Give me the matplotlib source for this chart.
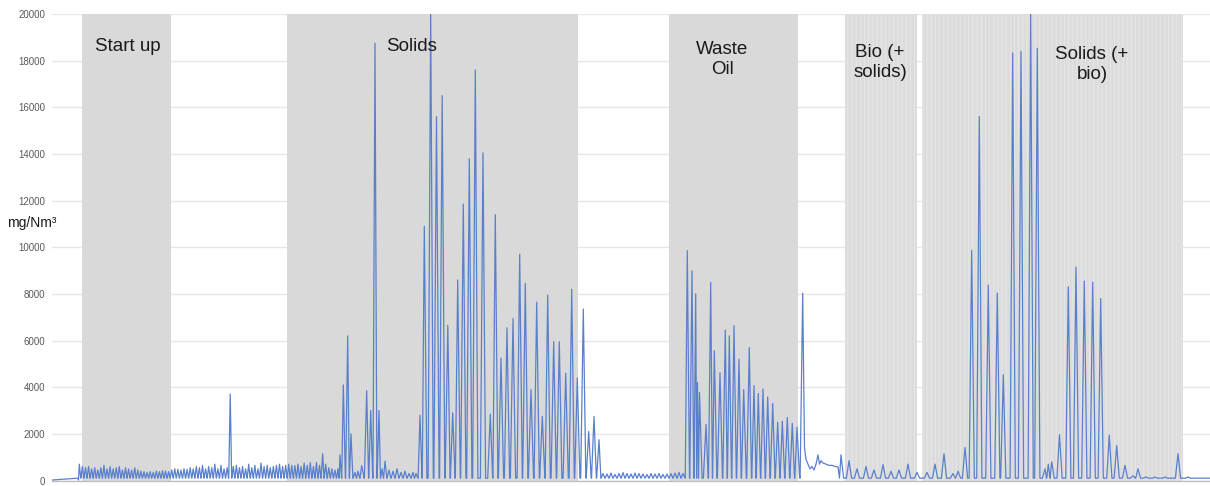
import matplotlib
matplotlib.use("Agg")
import matplotlib.pyplot as plt

# ---------------- data ----------------
# time axis in sample units; concentration in mg/Nm3
phase_names = ["Start up", "Solids", "Waste\nOil", "Bio (+\nsolids)", "Solids (+\nbio)"]
phase_start = [82, 287, 669, 845, 921.7]
phase_end = [171, 578.3, 797.7, 916.7, 1182.7]
phase_striped = [False, False, False, True, True]
label_x = [128, 412, 722, 880, 1092]
label_y = [18600, 18600, 18050, 17920, 17830]

baseline = 100
start_flat_t = [52, 78.5]
start_flat_v = [20, 20]

# dense low ripple during start-up / early solids (regular sampling)
ripple_a_start = 79.3
ripple_a_step = 3.08
ripple_a = [700, 600, 550, 600, 500, 550, 450, 550, 650, 500,
            600, 500, 550, 600, 450, 550, 500, 450, 550, 450,
            400, 380, 350, 380, 350, 400, 380, 420, 400, 380,
            450, 500, 480, 450, 500, 480, 550, 500, 600, 550,
            650, 500, 600, 550, 700, 500, 650, 500, 550, 3700,
            600, 650, 550, 600, 500, 700, 550, 650, 500, 750,
            600, 650, 550, 600, 650, 700, 600, 650, 700, 650,
            640, 700, 600, 750, 650, 770, 600, 770, 650, 1150,
            700, 550, 500, 450, 500]

# main peaks of the solids phase
solids_t = [340, 343.3, 347.7, 351, 355, 358, 361.7, 366.7, 370.7, 375,
            379, 382, 385, 389, 393, 397, 401, 405, 409, 413,
            416, 420, 424.3, 430.7, 436.5, 442.2, 447.8, 452.7, 457.7, 463.3,
            469.3, 475.3, 483, 490.3, 495.3, 501, 507, 513, 519.7, 525.3,
            531, 536.7, 542.3, 547.7, 553.7, 559.3, 565.7, 571.7, 577.3, 583.3,
            588.7, 594, 599]
solids_v = [1100, 4100, 6200, 2000, 350, 400, 640, 3850, 3000, 18750,
            3000, 500, 830, 450, 400, 500, 350, 400, 300, 350,
            300, 2800, 10900, 20000, 15600, 16500, 6650, 2900, 8600, 11850,
            13800, 17600, 14050, 2850, 11400, 5250, 6550, 6950, 9700, 8450,
            3900, 7650, 2750, 7950, 5950, 5950, 4600, 8200, 4400, 7350,
            2100, 2750, 1750]

# low ripple between solids and waste oil
ripple_b_start = 603
ripple_b_step = 4.0
ripple_b = [300, 280, 320, 260, 300, 340, 300, 280, 320, 300,
            280, 260, 300, 280, 300, 260, 280, 300, 320, 350, 300]

# waste oil peaks
oil_t = [687.3, 692, 695.7, 697.5, 699.5, 706, 710.7, 714.3, 720, 725.3,
         729.3, 734, 739, 743.7, 749.3, 754, 758.3, 763, 767.7, 772.7,
         777.7, 782.3, 787.3, 792.3, 797, 802.7]
oil_v = [9850, 8990, 8000, 4200, 3770, 2400, 8500, 5570, 4620, 6450,
         6200, 6640, 5200, 3900, 5700, 4070, 3730, 3920, 3580, 3300,
         2500, 2540, 2700, 2450, 2280, 8030]

# plateau after the waste oil phase (explicit readings)
plateau_t = [804.5, 806, 808, 810, 812, 814, 816, 818, 819.5, 821, 823, 826, 829, 832, 835, 838, 839.5]
plateau_v = [1400, 900, 700, 500, 600, 450, 700, 1100, 700, 850, 750, 700, 650, 650, 600, 580, 100]

# bio and solids (+bio) peaks
bio_t = [841, 849, 857, 866, 874, 883, 891, 899, 908, 917,
         927, 935, 944, 953, 958, 965, 971.7, 979.3, 988.3, 997.3,
         1003.3, 1012.7, 1021, 1030.7, 1037.3, 1045, 1048.3, 1051.7, 1059.5, 1068.3,
         1076, 1084.3, 1092.7, 1100.7, 1109.3, 1116.7, 1125, 1133, 1138, 1146,
         1155, 1165, 1178, 1188, 1200]
bio_v = [1100, 850, 500, 600, 450, 680, 400, 450, 700, 350,
         350, 700, 1150, 300, 400, 1420, 9860, 15600, 8380, 8030,
         4540, 18330, 18400, 20000, 18530, 500, 700, 800, 1970, 8300,
         9150, 8550, 8500, 7800, 1940, 1500, 650, 200, 500, 150,
         150, 150, 1150, 150, 100]

# ---------------- build the line ----------------
peaks = []
peaks += [(ripple_a_start + i * ripple_a_step, v) for i, v in enumerate(ripple_a)]
peaks += list(zip(solids_t, solids_v))
peaks += [(ripple_b_start + i * ripple_b_step, v) for i, v in enumerate(ripple_b)]
peaks += list(zip(oil_t, oil_v))
peaks += list(zip(bio_t, bio_v))
peaks.sort()

pts = list(zip(start_flat_t, start_flat_v))
for i, (t, h) in enumerate(peaks):
    gl = t - peaks[i - 1][0] if i > 0 else 3
    gr = peaks[i + 1][0] - t if i < len(peaks) - 1 else 3
    wl = min(2.6, 0.47 * gl)
    wr = min(2.6, 0.47 * gr)
    pts += [(t - wl, baseline), (t, h), (t + wr, baseline)]
# the plateau replaces the baseline between the last oil peak and the bio phase
pts = [p for p in pts if not (plateau_t[0] - 1.5 < p[0] < plateau_t[-1] and p[1] == baseline)]
pts += list(zip(plateau_t, plateau_v))
pts += [(1210, baseline)]
pts.sort(key=lambda p: p[0])
xs = [p[0] for p in pts]
ys = [p[1] for p in pts]

# ---------------- draw ----------------
plt.rcParams['font.family'] = ['Liberation Sans', 'DejaVu Sans']
plt.rcParams['hatch.color'] = '#e7e7e7'
plt.rcParams['hatch.linewidth'] = 0.7

fig = plt.figure(figsize=(12.1, 4.86), dpi=100)
ax = fig.add_axes([52 / 1210, 5.5 / 486, 1158 / 1210, 466.5 / 486])
ax.set_xlim(52, 1210)
ax.set_ylim(0, 20000)

ax.set_yticks(range(0, 20001, 2000))
ax.grid(axis='y', color='#e6e6e6', linewidth=1.0, zorder=0)
ax.set_axisbelow(True)
ax.tick_params(axis='y', length=0, labelsize=7, labelcolor='#595959', pad=5)
ax.set_xticks([])
for s in ['left', 'right', 'top']:
    ax.spines[s].set_visible(False)
ax.spines['bottom'].set_color('#bfbfbf')
ax.spines['bottom'].set_linewidth(1.0)

for x0, x1, striped in zip(phase_start, phase_end, phase_striped):
    if striped:
        ax.axvspan(x0, x1, facecolor='#dcdcdc', edgecolor='#e7e7e7',
                   hatch='||||', linewidth=0, zorder=1)
    else:
        ax.axvspan(x0, x1, facecolor='#d9d9d9', edgecolor='none', zorder=1)

ax.plot(xs, ys, color='#5a80cc', linewidth=0.9, zorder=3)

for name, lx, ly in zip(phase_names, label_x, label_y):
    ax.text(lx, ly, name, ha='center', va='center', fontsize=13.5,
            color='#1a1a1a', zorder=4)

fig.text(7 / 1210, 1 - 223 / 486, 'mg/Nm³', ha='left', va='center',
         fontsize=10, color='#1a1a1a')

fig.savefig('out.png', dpi=100)
